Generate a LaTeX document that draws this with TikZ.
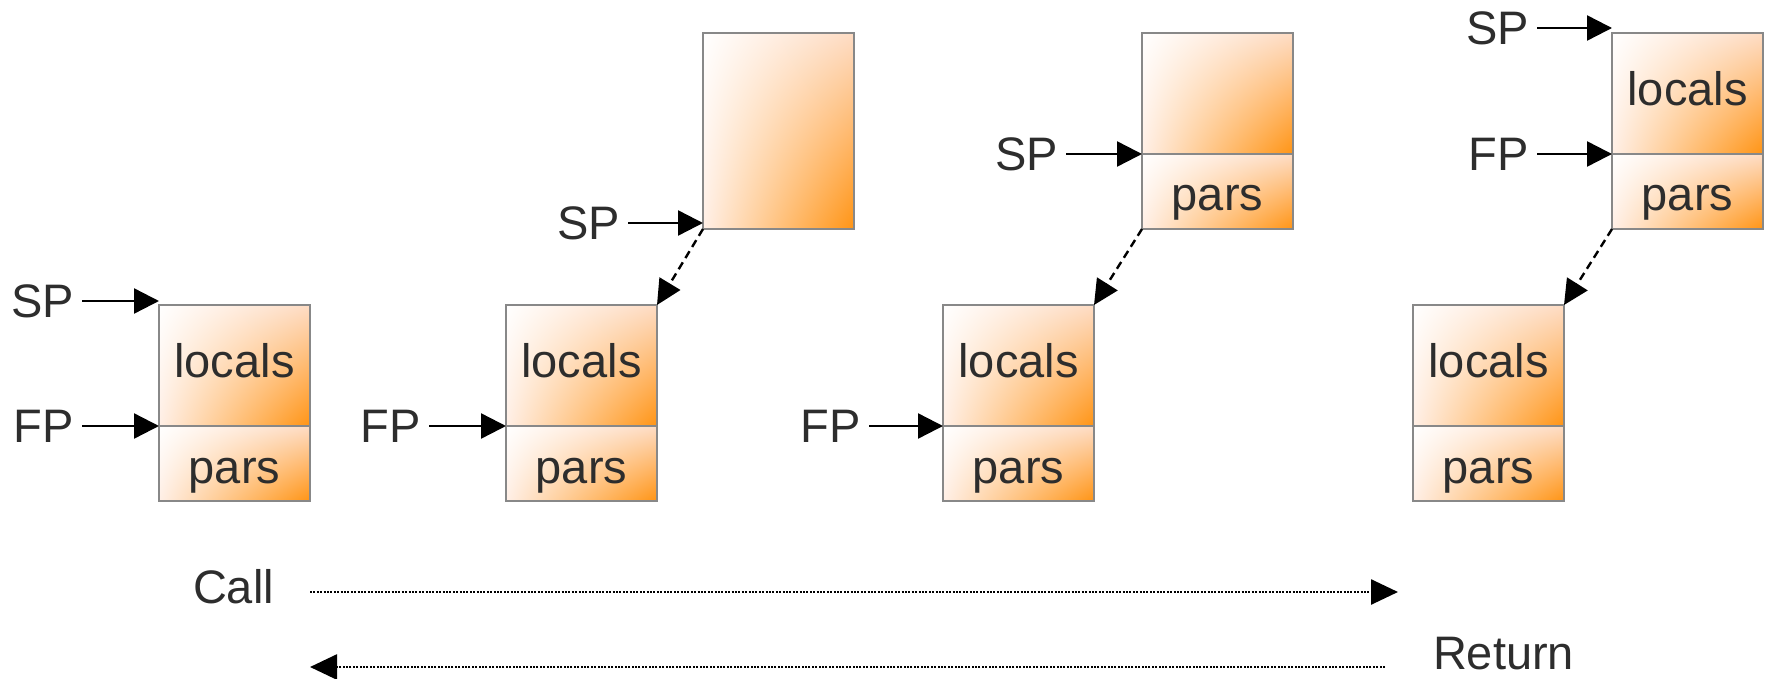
\documentclass[tikz,border=0pt]{standalone}
\usepackage{fontspec}
\setmainfont{Liberation Sans}
\usetikzlibrary{arrows.meta,shadings}
\definecolor{ink}{RGB}{45,45,45}
\definecolor{rim}{RGB}{136,136,136}
\definecolor{deep}{RGB}{255,148,20}
\definecolor{peachA}{RGB}{254,220,196}
\definecolor{peachB}{RGB}{255,239,230}

\begin{document}
\begin{tikzpicture}[x=1pt,y=-1pt,
  every node/.style={inner sep=0pt, outer sep=0pt, font=\fontsize{47}{56}\selectfont, text=ink},
  cell/.style={draw=rim, line width=1.5pt, anchor=north west, minimum width=151pt,
    upper left=white, upper right=peachA, lower left=peachB, lower right=deep},
  loccell/.style={cell, minimum height=121pt, text height=33pt, text depth=9pt},
  parcell/.style={cell, minimum height=75pt, text height=39pt, text depth=0pt},
  tag/.style={anchor=east},
  ptr/.style={-{Triangle[length=25pt,width=25pt]}, line width=2.4pt, shorten <=8pt},
  link/.style={-{Triangle[length=25pt,width=24pt]}, line width=2.4pt, dash pattern=on 8pt off 5pt},
  flow/.style={-{Triangle[length=27pt,width=25pt]}, line width=2.6pt, dash pattern=on 2pt off 1.4pt}]
\useasboundingbox (0,0) rectangle (1768,679);

% stack frames, lower row
\node[loccell] (a1) at (159,305) {locals};
\node[parcell] (p1) at (159,426) {pars};
\node[loccell] (a2) at (506,305) {locals};
\node[parcell] (p2) at (506,426) {pars};
\node[loccell] (a3) at (943,305) {locals};
\node[parcell] (p3) at (943,426) {pars};
\node[loccell] (a4) at (1413,305) {locals};
\node[parcell] (p4) at (1413,426) {pars};

% new frames, upper row
\node[cell, minimum height=196pt] (u2) at (703,33) {};
\node[loccell] (u3) at (1142,33) {};
\node[parcell] (q3) at (1142,154) {pars};
\node[loccell] (u4) at (1612,33) {locals};
\node[parcell] (q4) at (1612,154) {pars};

% stack and frame pointers
\node[tag] (sp1) at (74,301) {SP};
\node[tag] (fp1) at (74,426) {FP};
\node[tag] (fp2) at (421,426) {FP};
\node[tag] (sp2) at (620,223) {SP};
\node[tag] (sp3) at (1058,154) {SP};
\node[tag] (fp3) at (861,426) {FP};
\node[tag] (sp4) at (1529,28) {SP};
\node[tag] (fp4) at (1529,154) {FP};

\draw[ptr] (sp1) -- (sp1 -| a1.west);
\draw[ptr] (fp1) -- (fp1 -| p1.west);
\draw[ptr] (fp2) -- (fp2 -| p2.west);
\draw[ptr] (sp2) -- (sp2 -| u2.west);
\draw[ptr] (sp3) -- (sp3 -| q3.west);
\draw[ptr] (fp3) -- (fp3 -| p3.west);
\draw[ptr] (sp4) -- (sp4 -| u4.west);
\draw[ptr] (fp4) -- (fp4 -| q4.west);

% links back to the caller's frame
\draw[link] (u2.south west) -- (a2.north east);
\draw[link] (q3.south west) -- (a3.north east);
\draw[link] (q4.south west) -- (a4.north east);

% call / return direction
\node[anchor=base west] (call) at (193,603) {Call};
\node[anchor=base west] (ret) at (1433,669) {Return};
\coordinate (callA) at (310,592);
\coordinate (callB) at (1398,592);
\coordinate (retA) at (1385,667);
\coordinate (retB) at (310,667);
\draw[flow] (callA) -- (callB);
\draw[flow] (retA) -- (retB);
\end{tikzpicture}
\end{document}
